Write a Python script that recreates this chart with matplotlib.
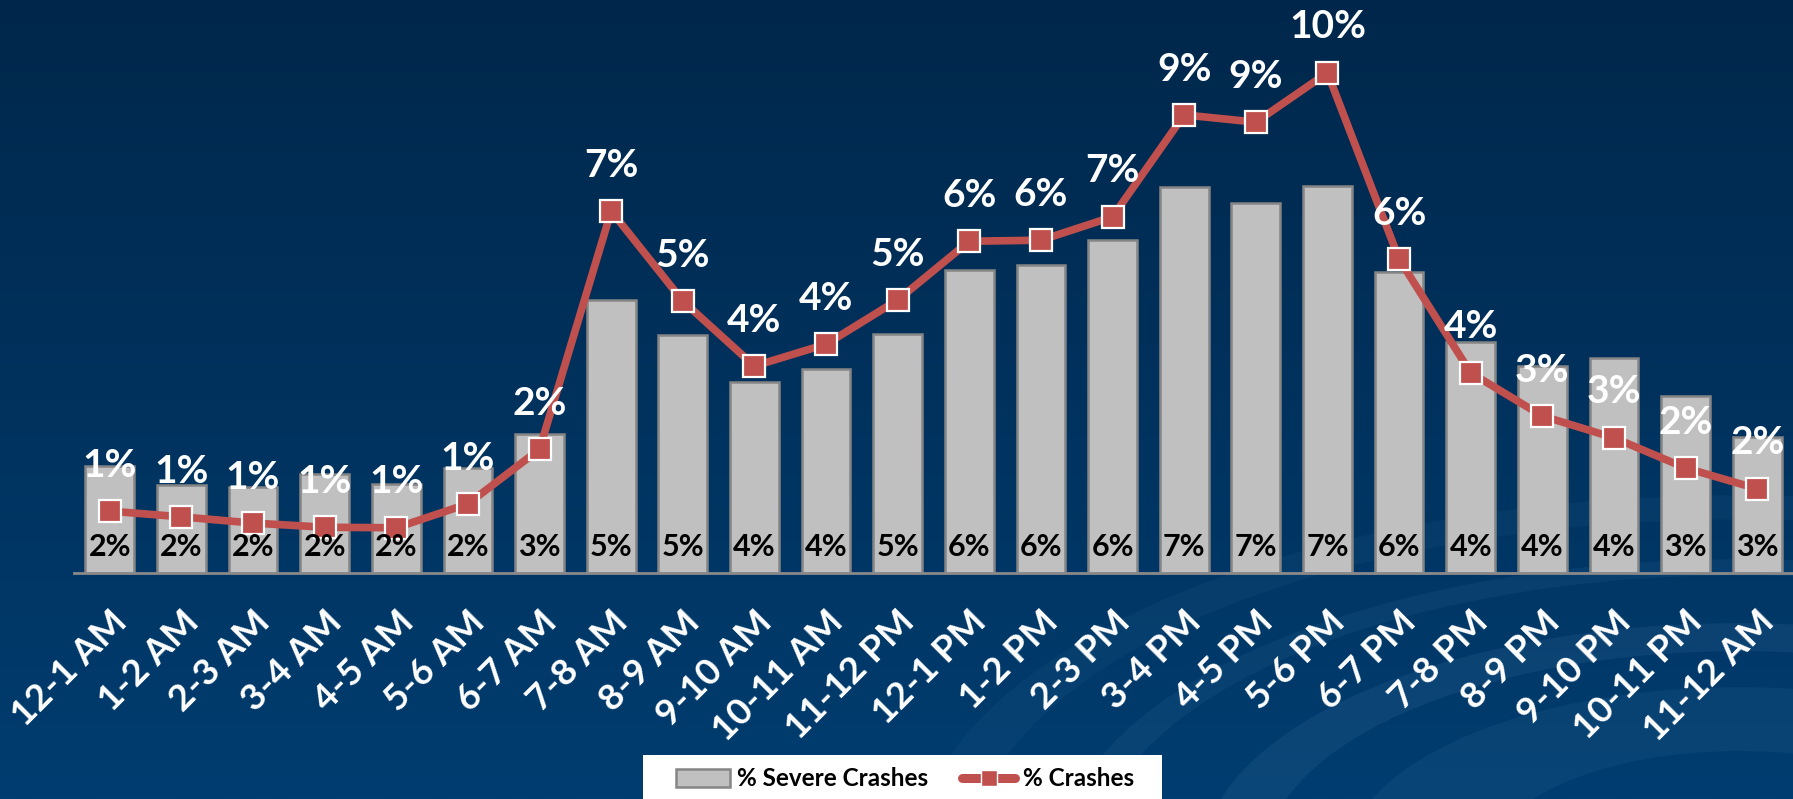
import numpy as np
import matplotlib
matplotlib.use("Agg")
import matplotlib.pyplot as plt
from matplotlib.patches import Patch, Wedge, Rectangle
from matplotlib.lines import Line2D

categories = ["12-1 AM", "1-2 AM", "2-3 AM", "3-4 AM", "4-5 AM", "5-6 AM", "6-7 AM",
              "7-8 AM", "8-9 AM", "9-10 AM", "10-11 AM", "11-12 PM", "12-1 PM", "1-2 PM",
              "2-3 PM", "3-4 PM", "4-5 PM", "5-6 PM", "6-7 PM", "7-8 PM", "8-9 PM",
              "9-10 PM", "10-11 PM", "11-12 AM"]
severe_pct = [2.06, 1.69, 1.65, 1.90, 1.71, 2.02, 2.67, 5.25, 4.58, 3.67, 3.92, 4.60,
              5.83, 5.92, 6.40, 7.42, 7.12, 7.45, 5.79, 4.44, 3.98, 4.13, 3.40, 2.62]
crash_pct = [1.19, 1.08, 0.96, 0.88, 0.87, 1.33, 2.38, 6.96, 5.23, 3.98, 4.40, 5.25,
             6.38, 6.40, 6.85, 8.81, 8.67, 9.62, 6.04, 3.85, 3.02, 2.60, 2.02, 1.62]
series_names = ["% Severe Crashes", "% Crashes"]

FONT = "Lato"
W, H = 1793, 799
fig = plt.figure(figsize=(W / 100, H / 100), dpi=100)

# background gradient (dark at top, lighter at bottom)
bg = fig.add_axes([0, 0, 1, 1])
bg.set_axis_off()
yy = np.linspace(0, 1, 400)[:, None]
xx = np.linspace(0, 1, 600)[None, :]
top = np.array([0x01, 0x27, 0x4b]) / 255
bot = np.array([0x00, 0x3d, 0x70]) / 255
t = yy * np.ones_like(xx)
img = top[None, None, :] * (1 - t[..., None]) + bot[None, None, :] * t[..., None]
bg.imshow(img, extent=[0, 1, 0, 1], aspect="auto", origin="upper", zorder=0)
bg.set_xlim(0, 1)
bg.set_ylim(0, 1)
# faint decorative arcs in the lower right
cx, cy = 0.97, -0.08
for r, w, a in [(0.30, 0.035, 0.09), (0.38, 0.02, 0.07), (0.46, 0.03, 0.05), (0.22, 0.08, 0.07)]:
    bg.add_patch(Wedge((cx, cy), r, 0, 180, width=w, transform=bg.transAxes,
                       facecolor="#7fb0da", alpha=a, edgecolor="none", zorder=1))
# legend white box
bg.add_patch(Rectangle((643 / W, 0), (1162 - 643) / W, (H - 755) / H, transform=bg.transAxes,
                       facecolor="white", edgecolor="none", zorder=2))

ax = fig.add_axes([74 / W, (H - 573) / H, 1 - 74 / W, 573 / H])
ax.patch.set_alpha(0)
x = np.arange(len(categories))
ax.bar(x, severe_pct, width=0.68, color="#c0c0c0", edgecolor="#858585", linewidth=1.8, zorder=2)
ax.plot(x, crash_pct, color="#c0504d", linewidth=5.5, marker="s", markersize=15.5,
        markerfacecolor="#c0504d", markeredgecolor="white", markeredgewidth=1.6, zorder=4)

s_per_pct = 52.0
ax.set_xlim(-0.5, len(categories) - 0.5)
ax.set_ylim(0, 573 / s_per_pct)
for sp in ["top", "right", "left"]:
    ax.spines[sp].set_visible(False)
ax.spines["bottom"].set_color("#8a8a8a")
ax.spines["bottom"].set_linewidth(2)
ax.spines["bottom"].set_zorder(3)
ax.set_yticks([])
ax.set_xticks(x)
ax.set_xticklabels(categories, rotation=45, ha="right", rotation_mode="anchor",
                   fontsize=26.5, fontweight="bold", color="white", family=FONT)
ax.tick_params(axis="x", length=0, pad=23)

for xi, v in zip(x, severe_pct):
    ax.annotate(f"{round(v)}%", (xi, 0), xytext=(0, 19), textcoords="offset points",
                ha="center", va="center", fontsize=22, fontweight="bold", color="black",
                family=FONT, zorder=5)
for xi, v in zip(x, crash_pct):
    ax.annotate(f"{round(v)}%", (xi, v), xytext=(0, 33), textcoords="offset points",
                ha="center", va="center", fontsize=28, fontweight="bold", color="white",
                family=FONT, zorder=5)

handles = [Patch(facecolor="#c0c0c0", edgecolor="#858585", linewidth=1.8),
           Line2D([0], [0], color="#c0504d", linewidth=6.5, marker="s", markersize=11,
                  markerfacecolor="#c0504d", markeredgecolor="white", markeredgewidth=1,
                  solid_capstyle="round")]
leg = fig.legend(handles, series_names, loc="center", bbox_to_anchor=(905 / W, (H - 779) / H),
                 ncol=2, frameon=False, columnspacing=1.4, handlelength=2.2,
                 handletextpad=0.3, borderpad=0.0, borderaxespad=0.0,
                 prop={"family": FONT, "weight": "bold", "size": 17.5})
for txt in leg.get_texts():
    txt.set_color("black")

fig.savefig("out.png", dpi=100)
